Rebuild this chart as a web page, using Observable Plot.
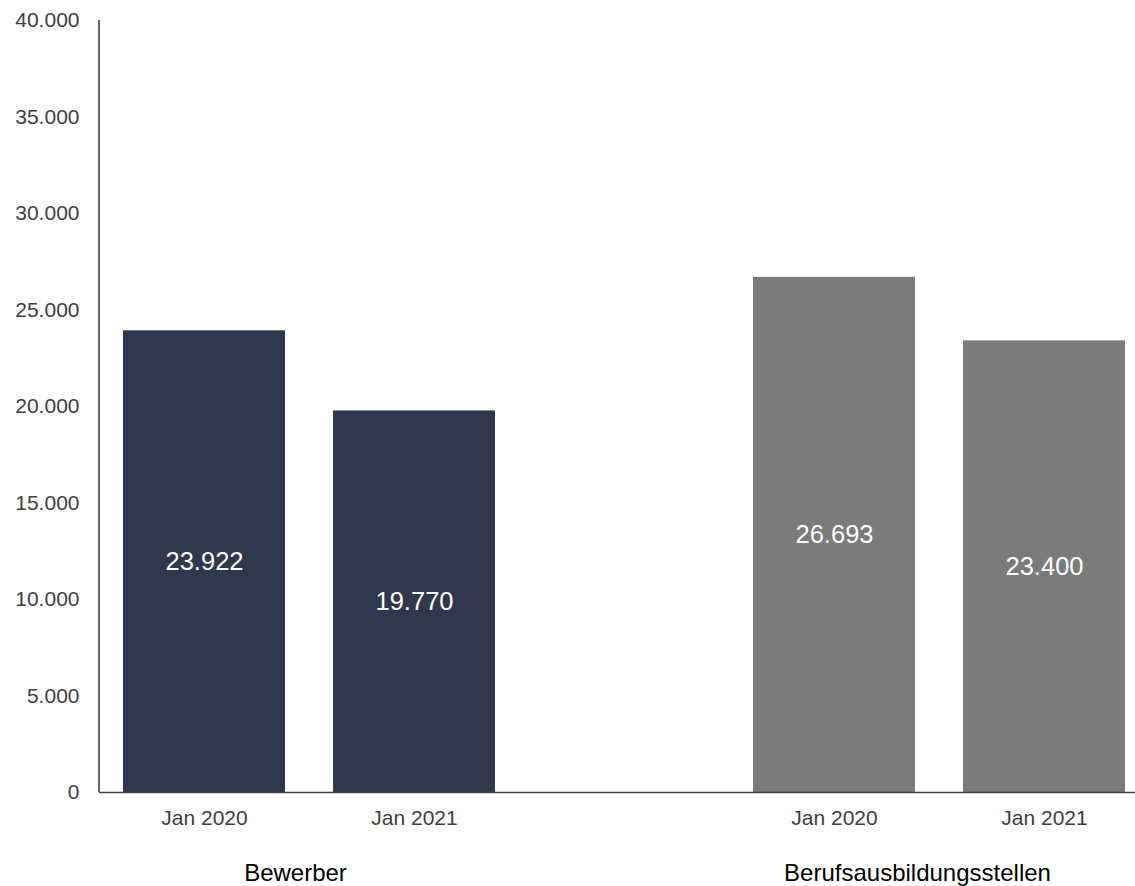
<!DOCTYPE html>
<html>
<head>
<meta charset="utf-8">
<script src="https://cdn.jsdelivr.net/npm/d3@7"></script>
<script src="https://cdn.jsdelivr.net/npm/@observablehq/plot@0.6"></script>
<style>
  html, body { margin: 0; padding: 0; background: #fff; }
  #chart { width: 1135px; height: 886px; }
  svg { font-family: "Liberation Sans", Arial, sans-serif; }
</style>
</head>
<body>
<div id="chart"></div>
<script>
// Data
const groups = ["Bewerber", "Bewerber", "Berufsausbildungsstellen", "Berufsausbildungsstellen"];
const periods = ["Jan 2020", "Jan 2021", "Jan 2020", "Jan 2021"];
const values = [23922, 19770, 26693, 23400];
const slotKeys = ["B-2020", "B-2021", "S-2020", "S-2021"];
const slotDomain = ["B-2020", "B-2021", "gap", "S-2020", "S-2021"];
const groupNames = ["Bewerber", "Berufsausbildungsstellen"];
const groupColors = ["#30384d", "#7b7b7b"];
const yTicks = [0, 5000, 10000, 15000, 20000, 25000, 30000, 35000, 40000];

const data = values.map((v, i) => ({slot: slotKeys[i], group: groups[i], period: periods[i], value: v}));
const slotLabel = new Map(data.map(d => [d.slot, d.period]));

const de = d3.formatLocale({decimal: ",", thousands: ".", grouping: [3], currency: ["", " €"]});
const fmt = de.format(",.0f");

const W = 1135, H = 886;
const marginLeft = 99, marginTop = 20, marginBottom = 94, marginRight = 0;

const chart = Plot.plot({
  width: W,
  height: H,
  marginLeft, marginTop, marginBottom, marginRight,
  style: {fontFamily: "'Liberation Sans', Arial, sans-serif", background: "#fff"},
  x: {domain: slotDomain, paddingInner: 0.23, paddingOuter: 0.043, insetLeft: 14, label: null},
  y: {domain: [0, 40000], label: null},
  color: {domain: groupNames, range: groupColors},
  marks: [
    Plot.barY(data, {x: "slot", y: "value", fill: "group"}),
    Plot.text(data, {x: "slot", y: d => d.value / 2, text: d => fmt(d.value), fill: "#fff", fontSize: 25.5}),
    Plot.ruleY([0], {stroke: "#404040", strokeWidth: 1.6}),
    Plot.axisY({ticks: yTicks, tickSize: 0, tickPadding: 20, tickFormat: fmt, fontSize: 21, fill: "#404040", label: null}),
    Plot.axisX({tickSize: 0, tickPadding: 18, tickFormat: d => slotLabel.get(d) ?? "", fontSize: 21, fill: "#404040", label: null}),
    Plot.text([groupNames[0]], {x: () => slotKeys[0], frameAnchor: "bottom", dy: 81, dx: 91, text: d => d, fontSize: 24, fill: "#000", lineAnchor: "middle"}),
    Plot.text([groupNames[1]], {x: () => slotKeys[2], frameAnchor: "bottom", dy: 81, dx: 83, text: d => d, fontSize: 24, fill: "#000", lineAnchor: "middle"})
  ]
});

// left axis line drawn from the y scale
const ys = chart.scale("y");
const yTop = ys.apply(40000), yBot = ys.apply(0);
d3.select(chart).append("line")
  .attr("x1", marginLeft).attr("x2", marginLeft)
  .attr("y1", yTop).attr("y2", yBot)
  .attr("stroke", "#404040").attr("stroke-width", 1.6);

document.getElementById("chart").appendChild(chart);
</script>
</body>
</html>
